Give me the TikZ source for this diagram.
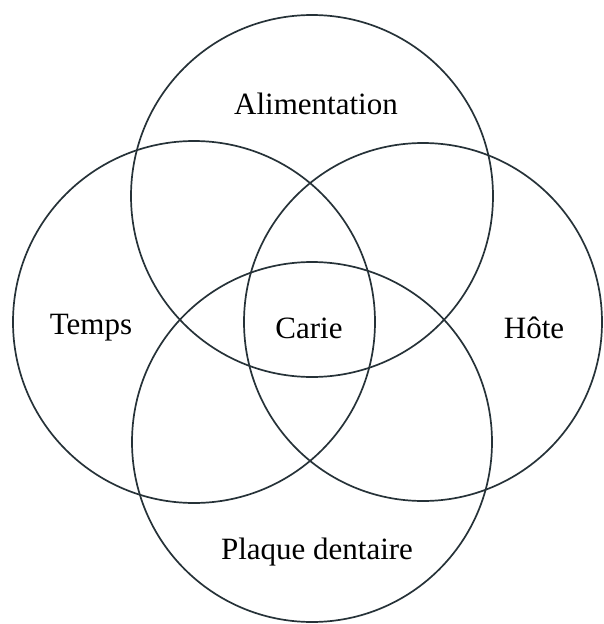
\documentclass[tikz,border=0pt]{standalone}
\usepackage{fontspec}
\setmainfont{Liberation Serif}
\usepackage{xcolor}
\definecolor{ink}{HTML}{263238}
\tikzset{
  every node/.style={text=black},
  ring/.style={circle,draw=ink,line width=1.7pt,inner sep=0pt,minimum size=362pt},
  tag/.style={font=\fontsize{31}{34}\selectfont,inner sep=0pt},
}
\begin{document}
\begin{tikzpicture}[x=1pt,y=-1pt]
\useasboundingbox (0,0) rectangle (604,624);

% ---------- circles ----------
\node[ring] (food) at (312,196) {};
\node[ring] (time) at (194,322) {};
\node[ring,minimum size=358pt] (host) at (423,322) {};
\node[ring,minimum size=360pt] (plaque) at (312,442) {};

% ---------- labels ----------
\node[tag] (lfood) at (316,104) {Alimentation};
\node[tag] (ltime) at (91,328) {Temps};
\node[tag] (lcarie) at (309,328) {Carie};
\node[tag] (lhost) at (534,328) {Hôte};
\node[tag] (lplaque) at (317,552) {Plaque dentaire};
\end{tikzpicture}
\end{document}
